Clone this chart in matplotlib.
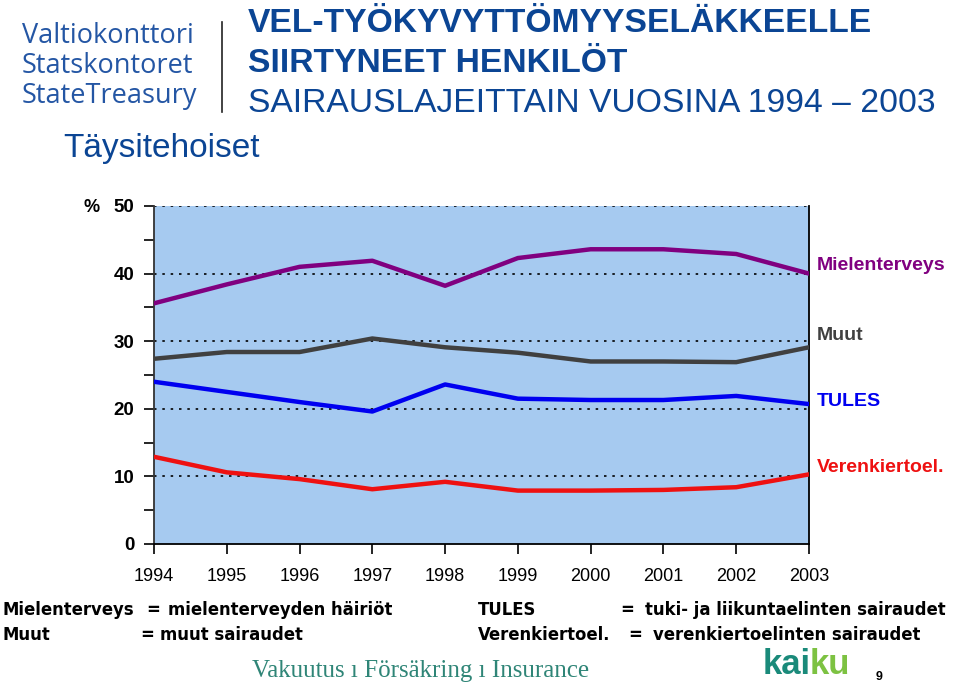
import numpy as np
import matplotlib.pyplot as plt
from matplotlib.ticker import MultipleLocator

# data (% of new disability pensions, full pensions)
years = [1994, 1995, 1996, 1997, 1998, 1999, 2000, 2001, 2002, 2003]
mielenterveys = [35.6, 38.4, 41.0, 41.9, 38.2, 42.3, 43.6, 43.6, 42.9, 40.0]
muut = [27.4, 28.4, 28.4, 30.4, 29.1, 28.3, 27.0, 27.0, 26.9, 29.1]
tules = [24.0, 22.5, 21.0, 19.6, 23.6, 21.5, 21.3, 21.3, 21.9, 20.7]
verenkierto = [12.9, 10.6, 9.6, 8.1, 9.2, 7.9, 7.9, 8.0, 8.4, 10.3]

series_names = ['Mielenterveys', 'Muut', 'TULES', 'Verenkiertoel.']
series_colors = ['#800080', '#404040', '#0000F0', '#EE1111']

W, H = 959, 689
fig = plt.figure(figsize=(W / 100, H / 100), dpi=100)


def fx(x):
    return x / W


def fy(y):
    return 1 - y / H


ax = fig.add_axes([fx(154), fy(544), fx(809) - fx(154), fy(206) - fy(544)])
ax.set_facecolor('#A6CAF0')

for vals, col in zip([mielenterveys, muut, tules, verenkierto], series_colors):
    ax.plot(years, vals, color=col, lw=3.2, solid_capstyle='round', zorder=3)

ax.set_xlim(1994, 2003)
ax.set_ylim(0, 50)
ax.set_xticks(years)
ax.yaxis.set_major_locator(MultipleLocator(10))
ax.yaxis.set_minor_locator(MultipleLocator(5))
for yv in [10, 20, 30, 40, 50]:
    ax.axhline(yv, color='black', lw=1.2, ls=(0, (1.5, 3.5)), zorder=2)

ax.spines['top'].set_visible(False)
ax.spines['right'].set_color('black')
ax.spines['left'].set_color('#333333')
ax.spines['bottom'].set_color('black')
for s in ax.spines.values():
    s.set_linewidth(1.3)

ax.tick_params(axis='y', which='major', direction='out', length=7, width=1.2,
               labelsize=13.5, pad=7)
ax.tick_params(axis='y', which='minor', direction='out', length=7, width=1.2)
ax.tick_params(axis='x', direction='out', length=7, width=1.2, labelsize=13, pad=10)
for lab in ax.get_yticklabels():
    lab.set_fontweight('bold')
    lab.set_fontfamily('Liberation Sans')
for lab in ax.get_xticklabels():
    lab.set_fontfamily('Liberation Sans')

fig.text(fx(84), fy(207), '%', fontsize=13, fontweight='bold',
         family='Liberation Sans', va='center')

# series labels on the right
label_y = [265, 335, 402, 468]
for name, col, yy in zip(series_names, series_colors, label_y):
    fig.text(fx(817), fy(yy), name, color=col, fontsize=14, fontweight='bold',
             family='Liberation Sans', va='center')

# header
blue = '#0B4594'
fig.text(fx(248), fy(23), 'VEL-TYÖKYVYTTÖMYYSELÄKKEELLE', color=blue, fontsize=24.2,
         fontweight='bold', family='Liberation Sans', va='center')
fig.text(fx(248), fy(63), 'SIIRTYNEET HENKILÖT', color=blue, fontsize=24.2,
         fontweight='bold', family='Liberation Sans', va='center')
fig.text(fx(248), fy(104), 'SAIRAUSLAJEITTAIN VUOSINA 1994 – 2003', color=blue,
         fontsize=24.2, family='Liberation Sans', va='center')
fig.text(fx(63), fy(149), 'Täysitehoiset', color=blue, fontsize=24,
         family='Liberation Sans', va='center')

logo_blue = '#2456A4'
for i, t in enumerate(['Valtiokonttori', 'Statskontoret', 'StateTreasury']):
    fig.text(fx(22), fy(36 + i * 30), t, color=logo_blue, fontsize=19.5,
             family='Open Sans', va='center')
fig.add_artist(plt.Line2D([fx(222), fx(222)], [fy(22), fy(112)], color='#222222', lw=1.2))

# definitions
def_font = dict(fontsize=11.9, fontweight='bold', family='DejaVu Sans', va='center')
fig.text(fx(3), fy(610), 'Mielenterveys', **def_font)
fig.text(fx(146), fy(610), '=', **def_font)
fig.text(fx(168), fy(610), 'mielenterveyden häiriöt', **def_font)
fig.text(fx(3), fy(635), 'Muut', **def_font)
fig.text(fx(140), fy(635), '=', **def_font)
fig.text(fx(160), fy(635), 'muut sairaudet', **def_font)
fig.text(fx(478), fy(610), 'TULES', **def_font)
fig.text(fx(620), fy(610), '=', **def_font)
fig.text(fx(645), fy(610), 'tuki- ja liikuntaelinten sairaudet', **def_font)
fig.text(fx(478), fy(635), 'Verenkiertoel.', **def_font)
fig.text(fx(628), fy(635), '=', **def_font)
fig.text(fx(653), fy(635), 'verenkiertoelinten sairaudet', **def_font)

# footer
fig.text(fx(252), fy(671), 'Vakuutus ı Försäkring ı Insurance', color='#2F8577',
         fontsize=18, family='Liberation Serif', va='center')
fig.text(fx(763), fy(664), 'kai', color='#1A8A7A', fontsize=25, fontweight='bold',
         family='Liberation Sans', va='center')
fig.text(fx(810), fy(664), 'ku', color='#7DC242', fontsize=25, fontweight='bold',
         family='Liberation Sans', va='center')
fig.text(fx(876), fy(677), '9', fontsize=9, fontweight='bold',
         family='Liberation Sans', va='center')

fig.savefig('out.png', dpi=100)
